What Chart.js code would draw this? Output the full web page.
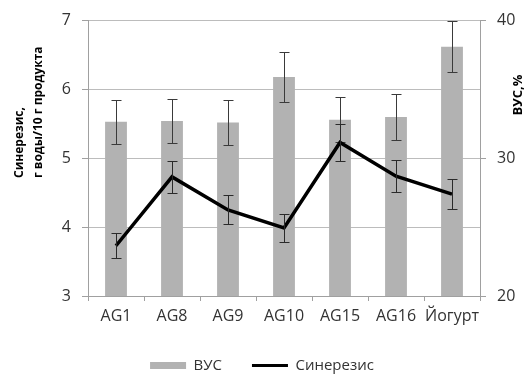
<!DOCTYPE html>
<html>
<head>
<meta charset="utf-8">
<script src="https://cdn.jsdelivr.net/npm/chart.js@4/dist/chart.umd.min.js"></script>
<style>
html,body{margin:0;padding:0;background:#fff;}
#wrap{width:524px;height:374px;}
</style>
</head>
<body>
<div id="wrap"><canvas id="c" width="524" height="374"></canvas></div>
<script>
// ---- data ----
const categories = ['AG1', 'AG8', 'AG9', 'AG10', 'AG15', 'AG16', 'Йогурт'];
const vus = [32.65, 32.7, 32.6, 35.9, 32.8, 33.0, 38.1];          // ВУС, % (right axis)
const vusErr = [1.6, 1.6, 1.6, 1.8, 1.65, 1.65, 1.85];
const syneresis = [3.73, 4.73, 4.25, 3.99, 5.23, 4.74, 4.48];     // Синерезис (left axis)
const syneresisErr = [0.18, 0.23, 0.21, 0.2, 0.27, 0.23, 0.22];
const leftTicks = [3, 4, 5, 6, 7];
const rightTicks = [20, 30, 40];
const leftTitle = ['Синерезис,', 'г воды/10 г продукта'];
const rightTitle = 'ВУС,%';
const seriesNames = ['ВУС', 'Синерезис'];

const FONT = "'Open Sans', 'DejaVu Sans', sans-serif";
const TEXT = '#333333';
const GRID = '#bcbcbc';
const AXIS = '#a0a0a0';
const BAR = '#b2b2b2';

const errorBars = {
  id: 'errorBars',
  afterDatasetDraw(chart, args) {
    const i = args.index;
    const spec = i === 0
      ? { axis: chart.scales.y2, vals: vus, errs: vusErr, color: '#3a3a3a' }
      : { axis: chart.scales.y, vals: syneresis, errs: syneresisErr, color: '#2a2a2a' };
    const xs = chart.scales.x;
    const ctx = chart.ctx;
    ctx.save();
    ctx.strokeStyle = spec.color;
    ctx.lineWidth = 1;
    spec.vals.forEach((v, k) => {
      const px = Math.round(xs.getPixelForValue(k)) + 0.5;
      const top = Math.round(spec.axis.getPixelForValue(v + spec.errs[k])) + 0.5;
      const bot = Math.round(spec.axis.getPixelForValue(v - spec.errs[k])) + 0.5;
      ctx.beginPath();
      ctx.moveTo(px, top); ctx.lineTo(px, bot);
      ctx.moveTo(px - 5, top); ctx.lineTo(px + 5, top);
      ctx.moveTo(px - 5, bot); ctx.lineTo(px + 5, bot);
      ctx.stroke();
    });
    ctx.restore();
  }
};

const axisTitles = {
  id: 'axisTitles',
  afterDraw(chart) {
    const ctx = chart.ctx;
    const ca = chart.chartArea;
    ctx.save();
    ctx.fillStyle = '#000';
    ctx.textAlign = 'left';
    ctx.textBaseline = 'middle';
    const baseY = ca.bottom - 118;
    ctx.font = "bold 12px " + FONT;
    [[20, leftTitle[0]], [39, leftTitle[1]]].forEach(([x, t]) => {
      ctx.save();
      ctx.translate(x, baseY);
      ctx.rotate(-Math.PI / 2);
      ctx.fillText(t, 0, 0);
      ctx.restore();
    });
    ctx.font = "bold 13px " + FONT;
    ctx.save();
    ctx.translate(ca.right + 38, ca.top + 95);
    ctx.rotate(-Math.PI / 2);
    ctx.fillText(rightTitle, 0, 0);
    ctx.restore();
    ctx.restore();
  }
};

new Chart(document.getElementById('c'), {
  data: {
    labels: categories,
    datasets: [
      {
        type: 'bar', label: seriesNames[0], data: vus, yAxisID: 'y2',
        backgroundColor: BAR, borderWidth: 0,
        barPercentage: 0.39, categoryPercentage: 1, order: 2
      },
      {
        type: 'line', label: seriesNames[1], data: syneresis, yAxisID: 'y',
        borderColor: '#000', borderWidth: 3.5, pointRadius: 0, tension: 0,
        fill: false, order: 1
      }
    ]
  },
  options: {
    responsive: false,
    animation: false,
    devicePixelRatio: 1,
    layout: { padding: { top: 19, left: 0, right: 0, bottom: 0 } },
    plugins: {
      tooltip: { enabled: false },
      legend: {
        position: 'bottom',
        maxHeight: 46,
        labels: {
          usePointStyle: true,
          pointStyleWidth: 36,
          boxHeight: 7,
          padding: 30,
          color: TEXT,
          font: { family: FONT, size: 15 },
          generateLabels() {
            return [
              { text: seriesNames[0], fillStyle: BAR, strokeStyle: BAR, lineWidth: 0, pointStyle: 'rect', datasetIndex: 0, fontColor: TEXT },
              { text: seriesNames[1], fillStyle: '#000', strokeStyle: '#000', lineWidth: 3, pointStyle: 'line', datasetIndex: 1, fontColor: TEXT }
            ];
          }
        }
      }
    },
    scales: {
      x: {
        type: 'category',
        offset: true,
        grid: { offset: true, drawOnChartArea: false, color: AXIS, tickLength: 5 },
        border: { display: true, color: AXIS },
        ticks: { color: TEXT, font: { family: FONT, size: 16 }, padding: 6, maxRotation: 0, autoSkip: false },
        afterFit(s) { s.height = 32; }
      },
      y: {
        position: 'left',
        min: 3, max: 7,
        afterBuildTicks(s) { s.ticks = leftTicks.map(v => ({ value: v })); },
        grid: { color: GRID, tickLength: 6, tickColor: AXIS },
        border: { display: true, color: AXIS },
        ticks: { color: TEXT, font: { family: FONT, size: 16 }, padding: 11 },
        afterFit(s) { s.width = 88; }
      },
      y2: {
        position: 'right',
        min: 20, max: 40,
        afterBuildTicks(s) { s.ticks = rightTicks.map(v => ({ value: v })); },
        grid: { drawOnChartArea: false, color: AXIS, tickLength: 6 },
        border: { display: true, color: AXIS },
        ticks: { color: TEXT, font: { family: FONT, size: 16 }, padding: 11 },
        afterFit(s) { s.width = 44; }
      }
    }
  },
  plugins: [errorBars, axisTitles]
});
</script>
</body>
</html>
